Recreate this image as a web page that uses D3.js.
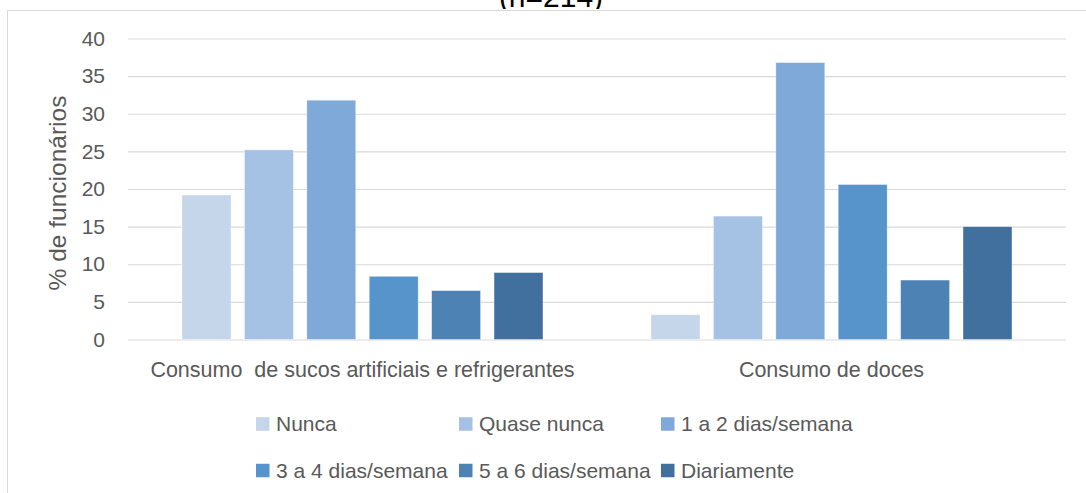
<!DOCTYPE html>
<html>
<head>
<meta charset="utf-8">
<script src="https://cdn.jsdelivr.net/npm/d3@7"></script>
<style>
  html, body { margin: 0; padding: 0; background: #fff; }
  svg { display: block; font-family: "Liberation Sans", Arial, sans-serif; }
</style>
</head>
<body>
<svg id="chart" width="1086" height="493"></svg>
<script>
// ---- data ----
const titleText = "(n=214)";
const yTitle = "% de funcionários";
const categories = ["Consumo  de sucos artificiais e refrigerantes", "Consumo de doces"];
const seriesNames = ["Nunca", "Quase nunca", "1 a 2 dias/semana", "3 a 4 dias/semana", "5 a 6 dias/semana", "Diariamente"];
const sucosValues = [19.2, 25.2, 31.8, 8.4, 6.5, 8.9];
const docesValues = [3.3, 16.4, 36.8, 20.6, 7.9, 15.0];
const yTicks = [0, 5, 10, 15, 20, 25, 30, 35, 40];
const seriesColors = ["#C5D5EA", "#A5C1E4", "#7EA9D8", "#5694CB", "#4D82B4", "#42709E"];

const valuesByCategory = [sucosValues, docesValues];

const svg = d3.select("#chart");
const W = 1086, H = 493;
const plot = { left: 128, right: 1066, top: 38.5, bottom: 339.5 };
const textColor = "#595959";
const gridColor = "#d9d9d9";

// frame (chart area border, cropped)
svg.append("path")
  .attr("d", `M7.5,${H} V10.5 H${W}`)
  .attr("fill", "none").attr("stroke", gridColor).attr("stroke-width", 1);

// title (cropped at top)
svg.append("clipPath").attr("id", "titleClip")
  .append("rect").attr("x", 0).attr("y", 0).attr("width", W).attr("height", 9);
svg.append("text")
  .attr("clip-path", "url(#titleClip)")
  .attr("x", 551).attr("y", 6.8)
  .attr("text-anchor", "middle")
  .attr("font-size", 30).attr("fill", "#000")
  .text(titleText);

// scales
const y = d3.scaleLinear().domain([0, 40]).range([plot.bottom, plot.top]);
const x0 = d3.scaleBand().domain(categories).range([plot.left, plot.right])
  .paddingInner(0.2017).paddingOuter(0.10085);
const x1 = d3.scaleBand().domain(seriesNames).range([0, x0.bandwidth()])
  .paddingInner(0.215).paddingOuter(0.1075);
const color = d3.scaleOrdinal().domain(seriesNames).range(seriesColors);

// y axis with gridlines
const yAxis = svg.append("g")
  .attr("transform", `translate(${plot.left},0)`)
  .call(d3.axisLeft(y).tickValues(yTicks).tickSizeInner(-(plot.right - plot.left)).tickSizeOuter(0).tickPadding(23));
yAxis.select(".domain").remove();
yAxis.selectAll(".tick line").attr("stroke", gridColor).attr("stroke-width", 1.2);
yAxis.selectAll(".tick text").attr("fill", textColor).attr("font-size", 21)
  .attr("font-family", "Liberation Sans, Arial, sans-serif");

// bars
const groups = svg.append("g").selectAll("g")
  .data(categories.map((c, i) => ({ cat: c, vals: valuesByCategory[i] })))
  .join("g")
  .attr("transform", d => `translate(${x0(d.cat)},0)`);
groups.selectAll("rect")
  .data(d => d.vals.map((v, j) => ({ name: seriesNames[j], value: v })))
  .join("rect")
  .attr("x", d => x1(d.name))
  .attr("y", d => y(d.value))
  .attr("width", x1.bandwidth())
  .attr("height", d => y(0) - y(d.value))
  .attr("fill", d => color(d.name))
  .attr("stroke", "#ffffff").attr("stroke-opacity", 0.5).attr("stroke-width", 0.8);

// category axis
const xAxis = svg.append("g")
  .attr("transform", `translate(0,${plot.bottom})`)
  .call(d3.axisBottom(x0).tickSize(0));
xAxis.select(".domain").remove();
xAxis.selectAll(".tick text")
  .attr("y", 37.5).attr("dy", 0)
  .attr("fill", textColor).attr("font-size", 21.5)
  .attr("font-family", "Liberation Sans, Arial, sans-serif")
  .style("white-space", "pre");

// y axis title
svg.append("text")
  .attr("transform", "translate(66,193) rotate(-90)")
  .attr("text-anchor", "middle")
  .attr("fill", textColor).attr("font-size", 24.5)
  .text(yTitle);

// legend
const legCols = [256, 459, 661];
const legRows = [424, 470.5];
const sq = 13.5;
const legend = svg.append("g").selectAll("g")
  .data(seriesNames)
  .join("g")
  .attr("transform", (d, i) => `translate(${legCols[i % 3]},${legRows[Math.floor(i / 3)]})`);
legend.append("rect")
  .attr("x", 0).attr("y", -sq / 2).attr("width", sq).attr("height", sq)
  .attr("fill", d => color(d));
legend.append("text")
  .attr("x", 20).attr("y", 7.3)
  .attr("fill", textColor).attr("font-size", 21)
  .text(d => d);
</script>
</body>
</html>
